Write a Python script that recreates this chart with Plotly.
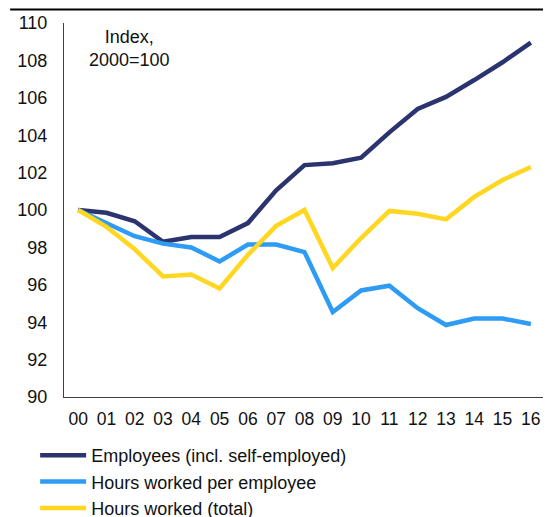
import plotly.graph_objects as go

years = list(range(17))
year_labels = ["00", "01", "02", "03", "04", "05", "06", "07", "08",
               "09", "10", "11", "12", "13", "14", "15", "16"]

employees = [100.0, 99.85, 99.4, 98.3, 98.55, 98.55, 99.3, 101.05, 102.4,
             102.5, 102.8, 104.15, 105.4, 106.05, 106.95, 107.9, 108.95]
hours_per_employee = [100.0, 99.3, 98.6, 98.2, 98.0, 97.25, 98.15, 98.15, 97.75,
                      94.55, 95.7, 95.95, 94.75, 93.85, 94.2, 94.2, 93.9]
hours_total = [100.0, 99.1, 97.9, 96.45, 96.55, 95.8, 97.6, 99.15, 100.0,
               96.9, 98.5, 99.95, 99.8, 99.5, 100.7, 101.6, 102.3]

names = ["Employees (incl. self-employed)", "Hours worked per employee",
         "Hours worked (total)"]
colors = ["#2c3470", "#2e9bf4", "#ffd620"]

fig = go.Figure()
for name, vals, col in zip(names, [employees, hours_per_employee, hours_total], colors):
    fig.add_trace(go.Scatter(
        x=years, y=vals, mode="lines", name=name,
        line=dict(color=col, width=4.5)))

fig.add_annotation(text="Index,<br>2000=100", xref="paper", yref="paper",
                   x=0.137, y=0.933, xanchor="center", yanchor="middle",
                   showarrow=False, font=dict(size=18, color="#111111"))

# rule across the top
fig.add_shape(type="line", xref="paper", yref="paper",
              x0=-0.112, x1=1.02, y0=1.036, y1=1.036,
              line=dict(color="black", width=2))

# page body adds 8px, so the figure is 8px smaller on each axis
fig.update_layout(
    width=543, height=509,
    margin=dict(l=56, r=6, t=15, b=120, autoexpand=False),
    plot_bgcolor="white", paper_bgcolor="white",
    font=dict(family="Liberation Sans, Arial, sans-serif", size=18, color="#111111"),
    showlegend=True,
    legend=dict(orientation="v", x=-0.06, y=-0.107, xanchor="left", yanchor="top",
                font=dict(size=18), tracegroupgap=0, itemwidth=46),
    xaxis=dict(range=[-0.5, 16.5], tickvals=years, ticktext=year_labels,
               showgrid=False, zeroline=False, showline=True, automargin=False,
               linecolor="#404040", linewidth=1, ticks="", ticklabelstandoff=6,
               tickfont=dict(size=17.5)),
    yaxis=dict(range=[90, 110], dtick=2, showgrid=False, zeroline=False,
               showline=True, linecolor="#404040", linewidth=1, ticks="",
               automargin=False, ticklabelstandoff=12),
)

fig.write_html("out.html", config={"displayModeBar": False})
